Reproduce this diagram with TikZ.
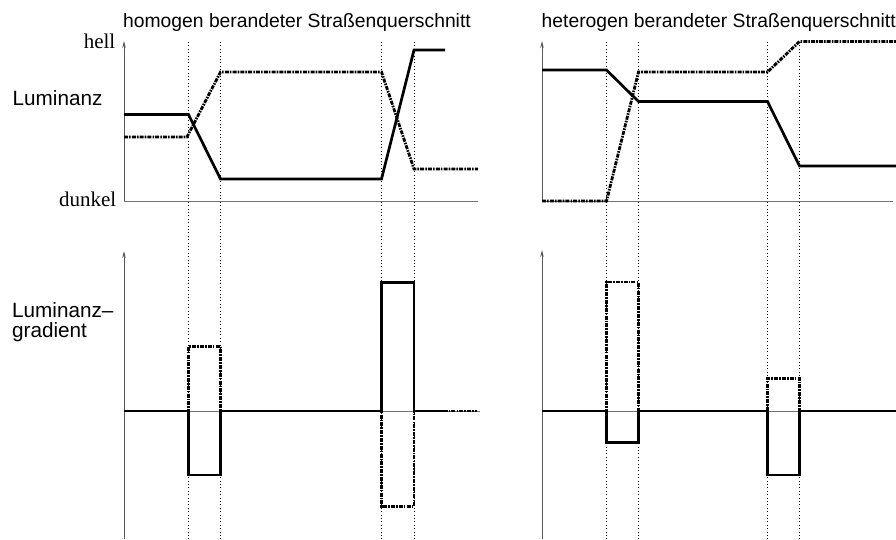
\documentclass[tikz,border=0pt]{standalone}
\usepackage{fontspec}
\setmainfont{Liberation Sans}
\newfontfamily\timesfont{Liberation Serif}
\usetikzlibrary{arrows.meta}

\begin{document}
\begin{tikzpicture}[x=1pt, y=-1pt,
    axis/.style={draw=black!65, line width=0.8pt, -{Stealth[length=7pt, width=3.5pt]}},
    zero/.style={draw=black!55, line width=0.8pt},
    guide/.style={line width=0.7pt, dash pattern=on 0.8pt off 2.6pt},
    lum/.style={line width=2.7pt},
    lumdd/.style={line width=2.8pt, dash pattern=on 4pt off 1.1pt on 1.6pt off 1.1pt},
    title/.style={inner sep=0pt, anchor=base west, font=\fontsize{19.3}{23}\selectfont},
    tag/.style={inner sep=0pt, font=\fontsize{20.7}{19.5}\selectfont},
    level/.style={inner sep=0pt, anchor=base east, font=\timesfont\fontsize{21}{24}\selectfont}]
                        \useasboundingbox (0,0) rectangle (896,539);

                        % titles and labels
                        \node[title] (th) at (123, 27.7) {homogen berandeter Straßenquerschnitt};
                        \node[title] (tt) at (541.5, 27.7) {heterogen berandeter Straßenquerschnitt};
                        \node[tag, anchor=base west] (lum) at (12.5, 105) {Luminanz};
                        \node[tag, anchor=base west, align=left] (grad) at (12, 337) {Luminanz--\\gradient};
                        \node[level] (hell) at (115.5, 48) {hell};
                        \node[level] (dunkel) at (116.5, 206) {dunkel};

                        % guide lines
                        \draw[guide]
                        (188.5, 42) -- (188.5, 539)
                        (220.5, 42) -- (220.5, 539)
                        (381.5, 42) -- (381.5, 539)
                        (414, 42) -- (414, 539)
                        (606.5, 42) -- (606.5, 539)
                        (638.5, 42) -- (638.5, 539)
                        (767.5, 42) -- (767.5, 539)
                        (799.5, 42) -- (799.5, 539);

                        % axes
                        \draw[zero] (124, 201) -- (478, 201);
                        \draw[axis] (124, 201) -- (124, 41);
                        \draw[zero] (542, 201) -- (893, 201);
                        \draw[axis] (542, 201) -- (542, 41);
                        \draw[zero] (124, 411) -- (480, 411);
                        \draw[axis] (124, 539) -- (124, 251);
                        \draw[zero] (542, 411) -- (896, 411);
                        \draw[axis] (542, 539) -- (542, 250);

                        % luminance, homogeneous
                        \draw[lumdd] (124, 137) -- (187, 137) -- (220.5, 72) -- (381.5, 72) -- (414, 169) -- (478, 169);
                        \draw[lum] (124, 114.5) -- (188.5, 114.5) -- (220.5, 179) -- (381.5, 179) -- (414, 50) -- (445, 50);

                        % luminance, heterogeneous
                        \draw[lumdd] (542, 201) -- (606.5, 201) -- (638.5, 72) -- (767.5, 72) -- (799.5, 41.5) -- (896, 41.5);
                        \draw[lum] (542, 70) -- (606.5, 70) -- (638.5, 101.5) -- (767.5, 101.5) -- (799.5, 166) -- (896, 166);

                        % gradient, homogeneous
                        \draw[lumdd] (124, 411) -- (188.5, 411) -- (188.5, 346.5) -- (220.5, 346.5) -- (220.5, 411)
                        -- (381.5, 411) -- (381.5, 506.5) -- (414, 506.5) -- (414, 411) -- (477, 411);
                        \draw[lum] (124, 411) -- (188.5, 411) -- (188.5, 475) -- (220.5, 475) -- (220.5, 411)
                        -- (381.5, 411) -- (381.5, 282.5) -- (414, 282.5) -- (414, 411) -- (445, 411);

                        % gradient, heterogeneous
                        \draw[lumdd] (542, 411) -- (606.5, 411) -- (606.5, 282) -- (638.5, 282) -- (638.5, 411)
                        -- (767.5, 411) -- (767.5, 378.5) -- (799.5, 378.5) -- (799.5, 411) -- (896, 411);
                        \draw[lum] (542, 411) -- (606.5, 411) -- (606.5, 442.5) -- (638.5, 442.5) -- (638.5, 411)
                        -- (767.5, 411) -- (767.5, 475) -- (799.5, 475) -- (799.5, 411) -- (896, 411);
                    \end{tikzpicture}
\end{document}
